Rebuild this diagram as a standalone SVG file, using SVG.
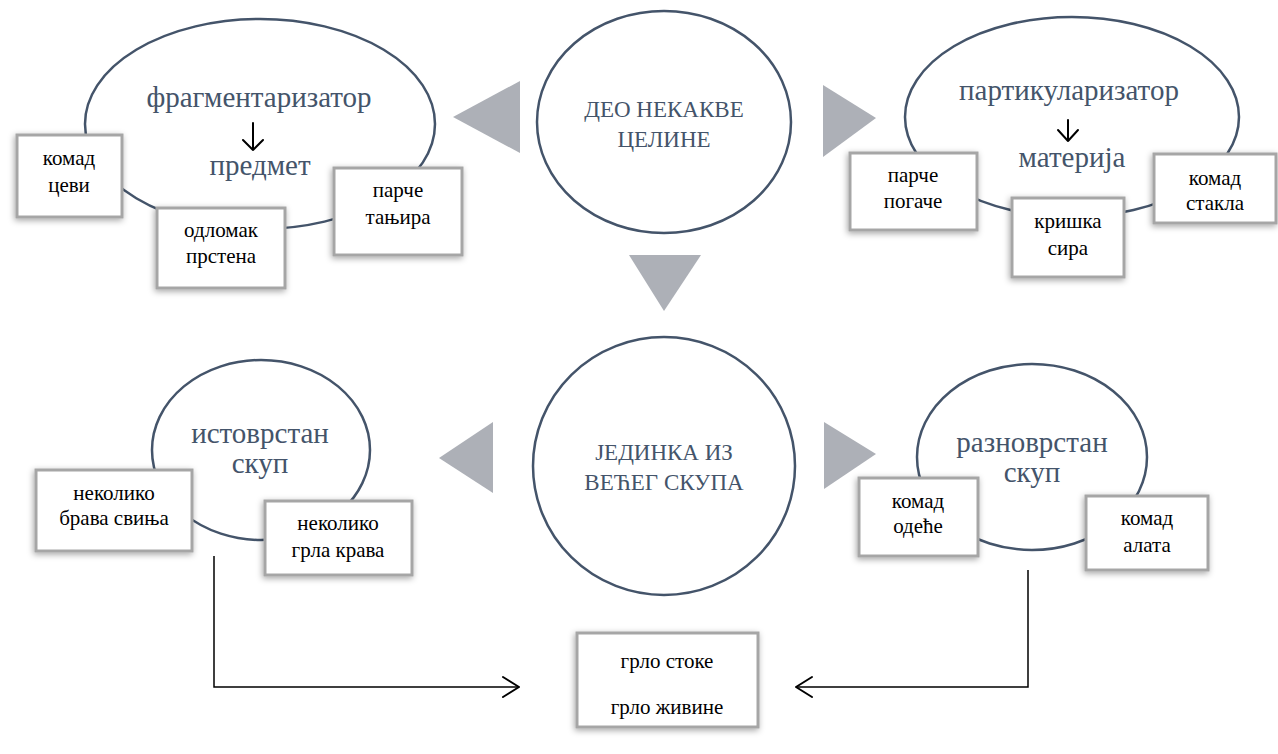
<svg xmlns="http://www.w3.org/2000/svg" width="1278" height="754" viewBox="0 0 1278 754">
<defs>
<style>
.ell{fill:none;stroke:#44546a;stroke-width:2.5}
.box{fill:#fff;stroke:#a6a6a6;stroke-width:3;filter:url(#sh)}
.tri{fill:#adb0b7}
text{font-family:'Liberation Serif','DejaVu Serif',serif;text-anchor:middle}
.t{font-size:21px;fill:#000}
.h{font-size:29px;fill:#44546a}
.c{font-size:23px;fill:#44546a}
.ln{fill:none;stroke:#000;stroke-width:1.5}
.ar{fill:none;stroke:#000;stroke-width:2;stroke-linecap:round;stroke-linejoin:round}
</style>
<filter id="sh" x="-20%" y="-20%" width="140%" height="140%">
<feDropShadow dx="-1" dy="2" stdDeviation="3" flood-color="#000" flood-opacity="0.35"/>
</filter>
</defs>
<rect width="1278" height="754" fill="#fff"/>

<g id="arrows-triangles">
<polygon class="tri" points="453,117 520,81 520,153"/>
<polygon class="tri" points="823,85 876,118 823,157"/>
<polygon class="tri" points="629,255 701,255 664,311"/>
<polygon class="tri" points="439,458 493,422 493,493"/>
<polygon class="tri" points="824,422 876,454 824,489"/>
</g>

<g id="center-top">
<ellipse class="ell" cx="664" cy="122" rx="127" ry="111"/>
<text class="c" x="664" y="117">ДЕО НЕКАКВЕ</text>
<text class="c" x="664" y="147">ЦЕЛИНЕ</text>
</g>

<g id="center-bottom">
<ellipse class="ell" cx="664" cy="466" rx="131" ry="129"/>
<text class="c" x="664" y="460">ЈЕДИНКА ИЗ</text>
<text class="c" x="664" y="490">ВЕЋЕГ СКУПА</text>
</g>

<g id="fragmentarizator">
<ellipse class="ell" cx="260" cy="124" rx="175" ry="105"/>
<text class="h" x="259" y="107">фрагментаризатор</text>
<text class="h" x="260" y="175">предмет</text>
</g>

<g id="partikularizator">
<ellipse class="ell" cx="1072" cy="117" rx="167" ry="100"/>
<text class="h" x="1069" y="100">партикуларизатор</text>
<text class="h" x="1072" y="167">материја</text>
</g>

<g id="istovrstan">
<ellipse class="ell" cx="261" cy="450" rx="109" ry="90"/>
<text class="h" x="260" y="443">истоврстан</text>
<text class="h" x="260" y="473">скуп</text>
</g>

<g id="raznovrstan">
<ellipse class="ell" cx="1032" cy="457" rx="115" ry="93"/>
<text class="h" x="1032" y="452">разноврстан</text>
<text class="h" x="1032" y="482">скуп</text>
</g>

<g id="connectors">
<path class="ar" d="M253,123 V150 M243,140 L253,150 L263,140"/>
<path class="ar" d="M1068,120 V141 M1058,130 L1068,141 L1078,130"/>
<path class="ln" d="M214,556 V687 H519"/>
<path class="ar" d="M503,677 L519,687 L503,697"/>
<path class="ln" d="M1028,570 V687 H796"/>
<path class="ar" d="M812,677 L796,687 L812,697"/>
</g>

<g id="box-komad-cevi">
<rect class="box" x="17" y="135" width="105" height="82"/>
<text class="t" x="69" y="165">комад</text>
<text class="t" x="69" y="192">цеви</text>
</g>
<g id="box-odlomak">
<rect class="box" x="157" y="208" width="128" height="80"/>
<text class="t" x="221" y="237">одломак</text>
<text class="t" x="221" y="263">прстена</text>
</g>
<g id="box-parce-tanjira">
<rect class="box" x="334" y="168" width="128" height="87"/>
<text class="t" x="398" y="197">парче</text>
<text class="t" x="398" y="224">тањира</text>
</g>

<g id="box-parce-pogace">
<rect class="box" x="850" y="153" width="127" height="77"/>
<text class="t" x="913" y="182">парче</text>
<text class="t" x="913" y="208">погаче</text>
</g>
<g id="box-kriska-sira">
<rect class="box" x="1012" y="198" width="112" height="79"/>
<text class="t" x="1068" y="228">кришка</text>
<text class="t" x="1068" y="255">сира</text>
</g>
<g id="box-komad-stakla">
<rect class="box" x="1154" y="154" width="122" height="69"/>
<text class="t" x="1215" y="185">комад</text>
<text class="t" x="1215" y="210">стакла</text>
</g>

<g id="box-brava">
<rect class="box" x="36" y="470" width="156" height="81"/>
<text class="t" x="114" y="500">неколико</text>
<text class="t" x="114" y="525">брава свиња</text>
</g>
<g id="box-grla-krava">
<rect class="box" x="265" y="501" width="147" height="74"/>
<text class="t" x="338" y="530">неколико</text>
<text class="t" x="338" y="557">грла крава</text>
</g>

<g id="box-odece">
<rect class="box" x="859" y="478" width="119" height="78"/>
<text class="t" x="918" y="508">комад</text>
<text class="t" x="918" y="533">одеће</text>
</g>
<g id="box-alata">
<rect class="box" x="1086" y="496" width="122" height="74"/>
<text class="t" x="1147" y="525">комад</text>
<text class="t" x="1147" y="552">алата</text>
</g>

<g id="box-grlo">
<rect class="box" x="577" y="633" width="181" height="94"/>
<text class="t" x="667" y="668">грло стоке</text>
<text class="t" x="667" y="714">грло живине</text>
</g>
</svg>
